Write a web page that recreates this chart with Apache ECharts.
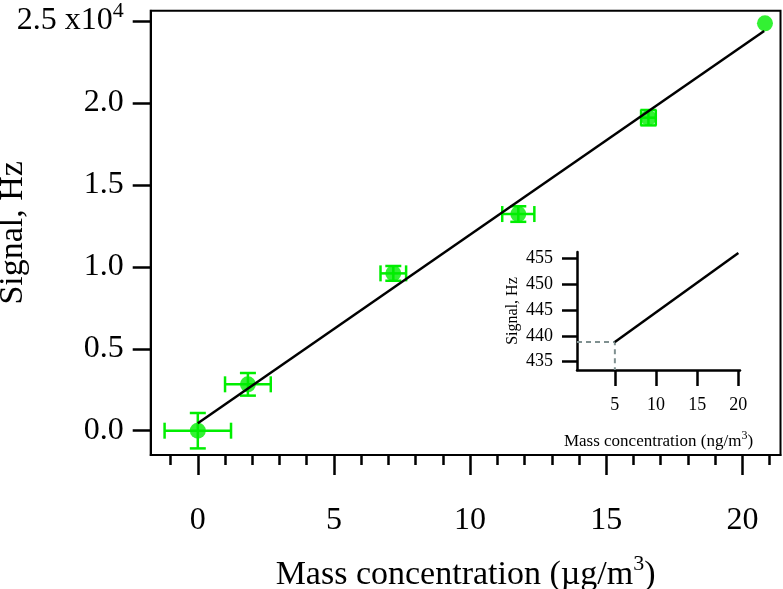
<!DOCTYPE html>
<html>
<head>
<meta charset="utf-8">
<script src="https://cdn.jsdelivr.net/npm/echarts@6/dist/echarts.min.js"></script>
<style>
html,body{margin:0;padding:0;background:#fff;}
#c{width:783px;height:589px;}
</style>
</head>
<body>
<div id="c"></div>
<script>
// ---- data ----
const massConc = [0, 1.84, 7.18, 11.77, 16.55, 20.83];      // µg/m3
const signalHz = [0, 2830, 9600, 13220, 19100, 24860];      // Hz
const massErr = [1.22, 0.84, 0.47, 0.59, 0.27, 0];
const signalErr = [1080, 690, 450, 475, 470, 0];
const fitX = [0, 20.8];
const fitY = [450, 24390];
const xMajorTicks = [0, 5, 10, 15, 20];
const xMinorTicks = [-1, 1, 2, 3, 4, 6, 7, 8, 9, 11, 12, 13, 14, 16, 17, 18, 19, 21];
const yTicks = [0, 5000, 10000, 15000, 20000, 25000];
// inset
const insetX = [5, 20];                 // ng/m3
const insetY = [438.8, 456];            // Hz
const insetXTicks = [5, 10, 15, 20];
const insetYTicks = [435, 440, 445, 450, 455];
const limitPoint = [5, 438.8];

const GREEN = '#00ee00';
const FONT = 'Liberation Serif';

const chart = echarts.init(document.getElementById('c'), null, {renderer: 'canvas'});

const errData = massConc.map((x, i) => [x, signalHz[i], massErr[i], signalErr[i]]);

function renderErr(params, api) {
  const x = api.value(0), y = api.value(1), ex = api.value(2), ey = api.value(3);
  const cap = 8;
  const st = {stroke: GREEN, lineWidth: 2.5};
  const ch = [];
  if (ex > 0) {
    const l = api.coord([x - ex, y]), r = api.coord([x + ex, y]);
    ch.push({type: 'line', shape: {x1: l[0], y1: l[1], x2: r[0], y2: r[1]}, style: st});
    ch.push({type: 'line', shape: {x1: l[0], y1: l[1] - cap, x2: l[0], y2: l[1] + cap}, style: st});
    ch.push({type: 'line', shape: {x1: r[0], y1: r[1] - cap, x2: r[0], y2: r[1] + cap}, style: st});
  }
  if (ey > 0) {
    const b = api.coord([x, y - ey]), t = api.coord([x, y + ey]);
    ch.push({type: 'line', shape: {x1: b[0], y1: b[1], x2: t[0], y2: t[1]}, style: st});
    ch.push({type: 'line', shape: {x1: b[0] - cap, y1: b[1], x2: b[0] + cap, y2: b[1]}, style: st});
    ch.push({type: 'line', shape: {x1: t[0] - cap, y1: t[1], x2: t[0] + cap, y2: t[1]}, style: st});
  }
  return {type: 'group', children: ch};
}

const XMIN = -1.73, XMAX = 21.4, YMIN = -1483, YMAX = 25628;

const option = {
  animation: false,
  backgroundColor: '#fff',
  grid: [
    {left: 150.7, top: 10.7, right: 2.5, bottom: 134, containLabel: false, outerBoundsMode: 'none', show: true, borderColor: '#000', borderWidth: 2, backgroundColor: 'transparent'},
    {left: 577, top: 252, right: 43, bottom: 219, containLabel: false, outerBoundsMode: 'none'}
  ],
  xAxis: [
    {
      type: 'value', gridIndex: 0, min: XMIN, max: XMAX, position: 'bottom',
      axisLine: {show: true, onZero: false, lineStyle: {color: '#000', width: 2}},
      axisTick: {show: true, inside: false, length: 20, customValues: xMajorTicks, lineStyle: {color: '#000', width: 2.5}},
      axisLabel: {show: true, customValues: xMajorTicks, margin: 50, fontFamily: FONT, fontSize: 32, color: '#000'},
      splitLine: {show: false},
      name: '{t|Mass concentration (µg/m}{s|3}{t|)}',
      nameLocation: 'middle', nameGap: 98, nameMoveOverlap: false,
      nameTextStyle: {
        rich: {
          t: {fontFamily: FONT, fontSize: 34, color: '#000'},
          s: {fontFamily: FONT, fontSize: 22, color: '#000', padding: [0, 0, 22, 0]}
        }
      }
    },
    {
      type: 'value', gridIndex: 0, min: XMIN, max: XMAX, position: 'bottom',
      axisLine: {show: false, onZero: false},
      axisTick: {show: true, inside: false, length: 10, customValues: xMinorTicks, lineStyle: {color: '#000', width: 2.5}},
      axisLabel: {show: false},
      splitLine: {show: false}
    },
    {
      type: 'value', gridIndex: 1, min: 0.4, max: 20.2, position: 'bottom',
      axisLine: {show: true, onZero: false, lineStyle: {color: '#000', width: 2.5}},
      axisTick: {show: true, inside: false, length: 16, customValues: insetXTicks, lineStyle: {color: '#000', width: 2.5}},
      axisLabel: {show: true, customValues: insetXTicks, margin: 26, fontFamily: FONT, fontSize: 18, color: '#000'},
      splitLine: {show: false},
      name: '{t|Mass concentration (ng/m}{s|3}{t|)}',
      nameLocation: 'middle', nameGap: 60, nameMoveOverlap: false,
      nameTextStyle: {
        rich: {
          t: {fontFamily: FONT, fontSize: 17, color: '#000'},
          s: {fontFamily: FONT, fontSize: 12, color: '#000', padding: [0, 0, 11, 0]}
        }
      }
    }
  ],
  yAxis: [
    {
      type: 'value', gridIndex: 0, min: YMIN, max: YMAX,
      axisLine: {show: true, onZero: false, lineStyle: {color: '#000', width: 2}},
      axisTick: {show: true, inside: false, length: 18, customValues: yTicks, lineStyle: {color: '#000', width: 2.5}},
      axisLabel: {
        show: true, customValues: yTicks, margin: 27, fontFamily: FONT, fontSize: 32, color: '#000',
        formatter: function (v) {
          const s = (v / 10000).toFixed(1);
          if (v === 25000) return '{a|' + s + ' x10}{s|4}';
          return '{a|' + s + '}';
        },
        rich: {
          a: {fontFamily: FONT, fontSize: 32, color: '#000'},
          s: {fontFamily: FONT, fontSize: 22, color: '#000', padding: [0, 0, 20, 0]}
        }
      },
      splitLine: {show: false},
      name: 'Signal, Hz', nameLocation: 'middle', nameGap: 121, nameMoveOverlap: false,
      nameTextStyle: {fontFamily: FONT, fontSize: 34, color: '#000'}
    },
    {
      type: 'value', gridIndex: 1, min: 433.4, max: 456.2,
      axisLine: {show: true, onZero: false, lineStyle: {color: '#000', width: 2.5}},
      axisTick: {show: true, inside: false, length: 15, customValues: insetYTicks, lineStyle: {color: '#000', width: 2.5}},
      axisLabel: {show: true, customValues: insetYTicks, margin: 24, fontFamily: FONT, fontSize: 18, color: '#000'},
      splitLine: {show: false},
      name: 'Signal, Hz', nameLocation: 'middle', nameGap: 56, nameMoveOverlap: false,
      nameTextStyle: {fontFamily: FONT, fontSize: 16, color: '#000'}
    }
  ],
  series: [
    {
      type: 'custom', xAxisIndex: 0, yAxisIndex: 0, renderItem: renderErr,
      data: errData, z: 3, silent: true
    },
    {
      type: 'scatter', xAxisIndex: 0, yAxisIndex: 0,
      data: massConc.map((x, i) => [x, signalHz[i]]),
      symbol: 'circle', symbolSize: 16, itemStyle: {color: GREEN}, z: 4
    },
    {
      type: 'line', xAxisIndex: 0, yAxisIndex: 0,
      data: fitX.map((x, i) => [x, fitY[i]]),
      showSymbol: false, symbol: 'none', lineStyle: {color: '#000', width: 2.5}, z: 5
    },
    {
      type: 'line', xAxisIndex: 2, yAxisIndex: 1,
      data: [[0.4, limitPoint[1]], [limitPoint[0], limitPoint[1]], [limitPoint[0], 433.4]],
      showSymbol: false, symbol: 'none', lineStyle: {color: '#7f9090', width: 2, type: [5, 4]}, z: 3
    },
    {
      type: 'line', xAxisIndex: 2, yAxisIndex: 1,
      data: insetX.map((x, i) => [x, insetY[i]]),
      showSymbol: false, symbol: 'none', lineStyle: {color: '#000', width: 2.5}, z: 5
    }
  ]
};
chart.setOption(option);
</script>
</body>
</html>
